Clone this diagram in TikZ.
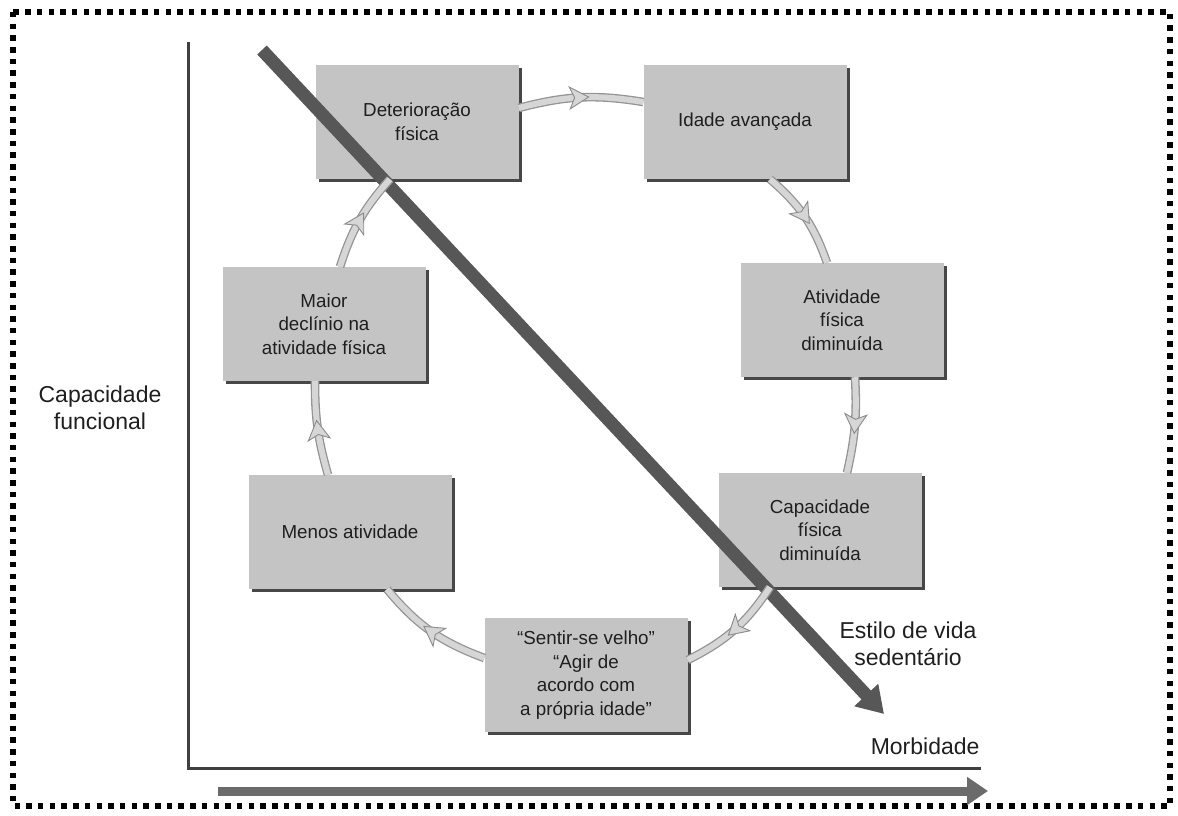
\documentclass[tikz,border=0pt]{standalone}
\usepackage{fontspec}
\setmainfont{Liberation Sans}
\usetikzlibrary{arrows.meta,decorations.markings,shadows}
\begin{document}
\begin{tikzpicture}[x=1pt,y=-1pt,
  cyclebox/.style={fill=black!23, minimum width=203pt, minimum height=114pt,
    align=center, inner sep=2pt, text=black!88,
    font=\fontsize{18.8}{23.5}\selectfont,
    general shadow={fill=black!72, shadow xshift=3pt, shadow yshift=-3pt}},
  label/.style={align=center, text=black!88, font=\fontsize{23}{27}\selectfont},
  cycle/.style={draw=black!16, line width=6pt,
    preaction={draw=black!42, line width=8.6pt},
    postaction={decorate},
    decoration={markings, mark=at position 0.5 with
      {\filldraw[fill=black!16, draw=black!45, line width=0.9pt]
        (-11,-11) -- (8,0) -- (-11,11) -- (-6,0) -- cycle;}}},
  axis/.style={draw=black!75, line width=3pt},
  sedentary/.style={draw=black!66, line width=13pt,
    -{Triangle[length=26pt, width=31pt]}},
  morbid/.style={draw=black!58, line width=9pt,
    -{Triangle[length=21pt, width=27pt]}},
  frame/.style={draw=black, line width=5.5pt, dash pattern=on 5.5pt off 6.2pt}
]
\useasboundingbox (0,0) rectangle (1178,816);
\draw[frame] (13,12) rectangle (1170,806);

% axes
\coordinate (ytop) at (188,42);
\coordinate (origin) at (188,768);
\coordinate (xend) at (981,768);
\draw[axis] (ytop) -- (origin) -- (xend);
\node[label] (capfun) at (100,408) {Capacidade\\funcional};
\node[label, anchor=east] (morb) at (983,746) {Morbidade};

% morbidity arrow along the bottom
\coordinate (mstart) at (218,791);
\coordinate (mend) at (988,791);
\draw[morbid] (mstart) -- (mend);

% the cycle of boxes
\node[cyclebox] (det)    at (417,122) {Deterioração\\física};
\node[cyclebox] (ida)    at (745,122) {Idade avançada};
\node[cyclebox] (ativ)   at (842,320) {Atividade\\física\\diminuída};
\node[cyclebox] (cap)    at (820,530) {Capacidade\\física\\diminuída};
\node[cyclebox] (sentir) at (586,675) {“Sentir-se velho”\\“Agir de\\acordo com\\a própria idade”};
\node[cyclebox] (menos)  at (350,532) {Menos atividade};
\node[cyclebox] (maior)  at (324,324) {Maior\\declínio na\\atividade física};

% sedentary lifestyle arrow
\coordinate (sstart) at (262,50);
\coordinate (send) at (884,714);
\draw[sedentary] (sstart) -- (send);
\node[label] (estilo) at (908,644) {Estilo de vida\\sedentário};

% cycle connectors
\draw[cycle] ([yshift=14pt]det.east) to[bend left=12] ([yshift=20pt]ida.west);
\draw[cycle] ([xshift=25pt]ida.south) to[bend left=15] ([xshift=-15pt]ativ.north);
\draw[cycle] ([xshift=13pt]ativ.south) to[bend left=8] ([xshift=27pt]cap.north);
\draw[cycle] ([xshift=-50pt]cap.south) to[bend left=15] ([yshift=15pt]sentir.east);
\draw[cycle] ([yshift=17pt]sentir.west) to[bend left=15] ([xshift=37pt]menos.south);
\draw[cycle] ([xshift=-22pt]menos.north) to[bend left=8] ([xshift=-9pt]maior.south);
\draw[cycle] ([xshift=16pt]maior.north) to[bend left=12] ([xshift=-27pt]det.south);
\end{tikzpicture}
\end{document}
